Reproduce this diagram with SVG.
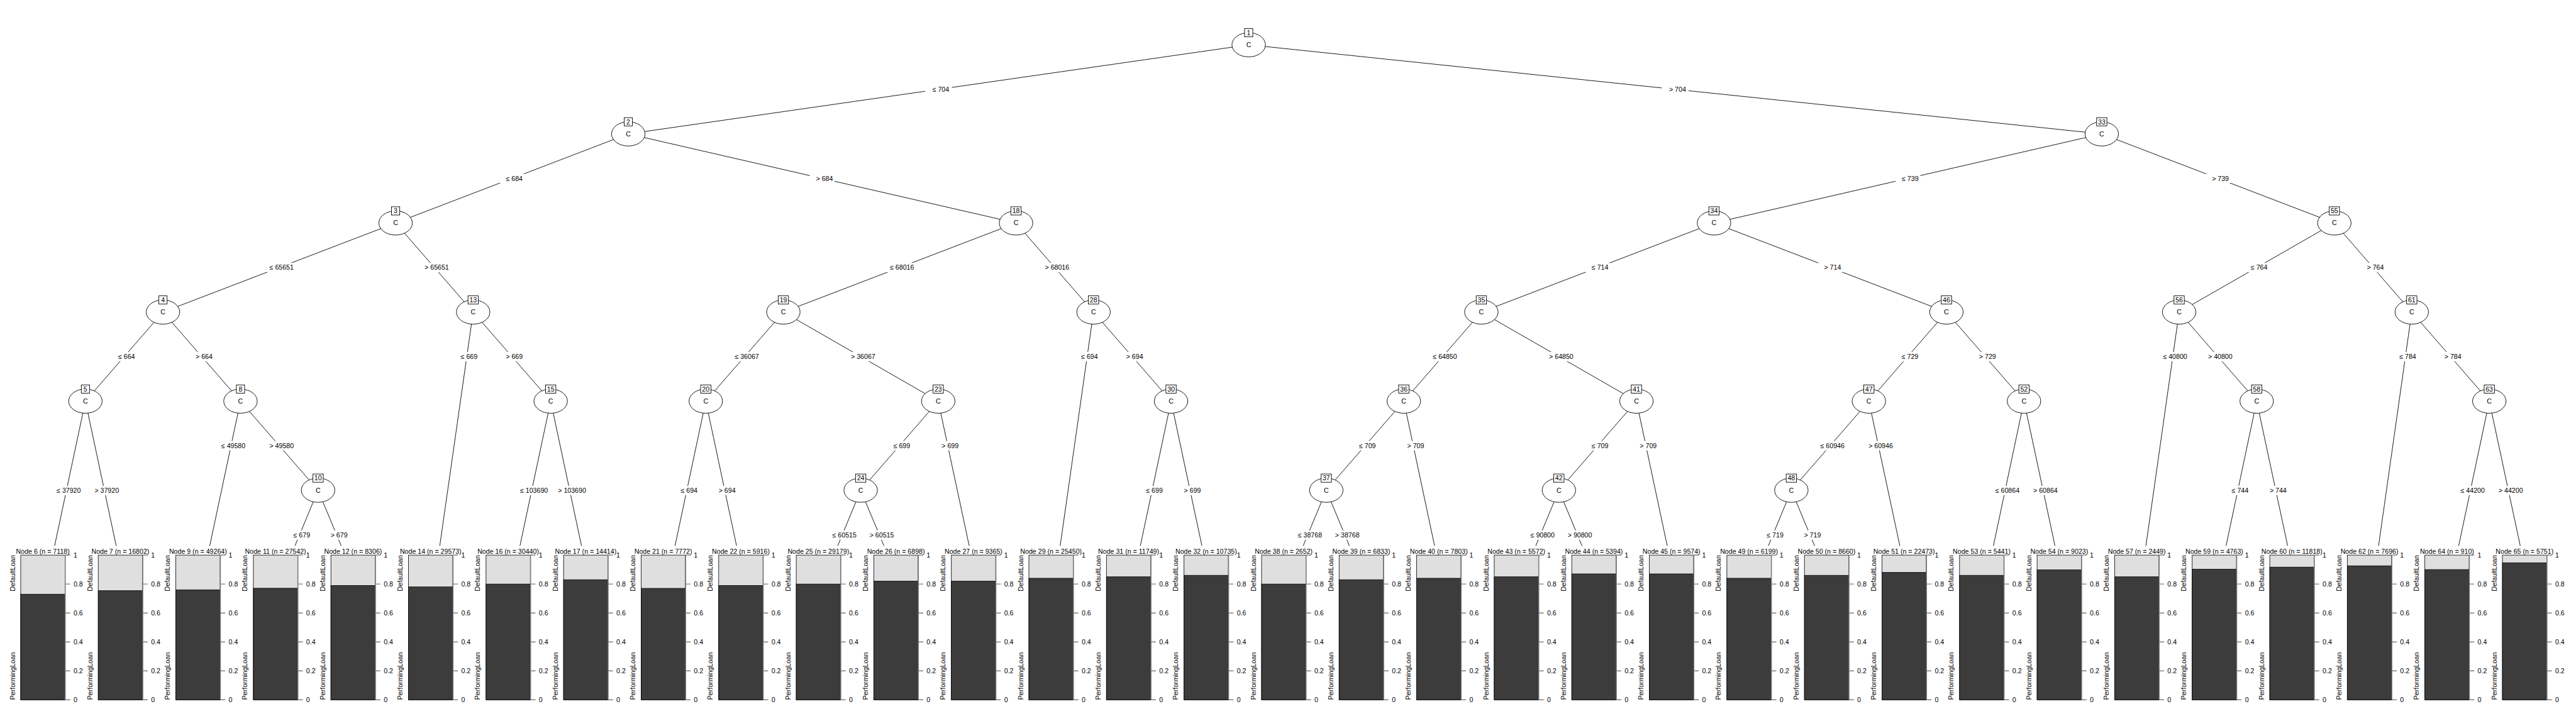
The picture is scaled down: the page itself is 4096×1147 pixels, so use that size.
<svg xmlns="http://www.w3.org/2000/svg" xmlns:xlink="http://www.w3.org/1999/xlink" width="4096" height="1147" viewBox="0 0 4096 1147">
<style>
text{font-family:"Liberation Sans",Arial,sans-serif;font-size:13px;fill:#000}
.m{text-anchor:middle}
.e{stroke:#000;stroke-width:1.1;fill:none}
.lb rect{fill:#fff;stroke:none}
.lb text{text-anchor:middle}
.n ellipse{fill:#fff;stroke:#000;stroke-width:1.1}
.n rect{fill:#fff;stroke:#000;stroke-width:1.1}
.n text{text-anchor:middle}
.lo{fill:#dfdfdf;stroke:#000;stroke-width:1}
.dk{fill:#3c3c3c;stroke:#000;stroke-width:1}
.ax{stroke:#808080;stroke-width:1.8;fill:none}
.en{text-anchor:end}
</style>
<defs>
<path id="axis" class="ax" d="M86.5,1078V1359M86.5,1078h9.5M86.5,1134.2h9.5M86.5,1190.4h9.5M86.5,1246.6h9.5M86.5,1302.8h9.5M86.5,1359h9.5"/>
</defs>
<rect x="0" y="0" width="4096" height="1147" fill="#fff"/>
<g transform="scale(0.8192)">
<g id="connectors">
<path class="e" d="M2423.7,87L1219.5,260M2423.7,87L4079.5,260M1219.5,260L767.9,433M1219.5,260L1972.1,433M767.9,433L316.3,606M767.9,433L918.4,606M316.3,606L165.8,779M316.3,606L466.8,779M466.8,779L617.4,952M918.4,606L1068.9,779M1972.1,433L1520.5,606M1972.1,433L2122.5,606M1520.5,606L1369.9,779M1520.5,606L1821.1,779M1821.1,779L1670.6,952M2122.5,606L2273,779M4079.5,260L3326.9,433M4079.5,260L4531,433M3326.9,433L2875.3,606M3326.9,433L3778,606M2875.3,606L2724.8,779M2875.3,606L3176.3,779M2724.8,779L2574.3,952M3176.3,779L3025.8,952M3778,606L3627.5,779M3778,606L3928.6,779M3627.5,779L3477,952M4531,433L4229.7,606M4531,433L4681.2,606M4229.7,606L4380.2,779M4681.2,606L4831.7,779"/>
<path class="e" d="M165.8,779L106,1060M165.8,779L225.5,1060M466.8,779L407.1,1060M617.4,952L572.5,1060M617.4,952L662.3,1060M918.4,606L853.6,1060M1068.9,779L1009.2,1060M1068.9,779L1128.7,1060M1369.9,779L1310.2,1060M1369.9,779L1429.7,1060M1821.1,779L1881.2,1060M1670.6,952L1626,1060M1670.6,952L1715.8,1060M2122.5,606L2057.8,1060M2273,779L2213.4,1060M2273,779L2332.9,1060M2724.8,779L2784.5,1060M2574.3,952L2529.4,1060M2574.3,952L2619.2,1060M3176.3,779L3236.1,1060M3025.8,952L2980.9,1060M3025.8,952L3070.7,1060M3627.5,779L3687.6,1060M3477,952L3432.3,1060M3477,952L3522.2,1060M3928.6,779L3869.2,1060M3928.6,779L3988.7,1060M4229.7,606L4165.2,1060M4380.2,779L4320.8,1060M4380.2,779L4440.3,1060M4681.2,606L4616.8,1060M4831.7,779L4772.3,1060M4831.7,779L4891.8,1060"/>
<g class="lb">
<rect x="1795.6" y="164.5" width="52" height="18"/><text x="1826.1" y="178.1">≤ 704</text>
<rect x="3225.6" y="164.5" width="52" height="18"/><text x="3256.1" y="178.1">&gt; 704</text>
<rect x="969.7" y="337.5" width="48" height="18"/><text x="998.2" y="351.1">≤ 684</text>
<rect x="1571.8" y="337.5" width="48" height="18"/><text x="1600.3" y="351.1">&gt; 684</text>
<rect x="3679.2" y="337.5" width="48" height="18"/><text x="3707.7" y="351.1">≤ 739</text>
<rect x="4281.3" y="337.5" width="48" height="18"/><text x="4309.8" y="351.1">&gt; 739</text>
<rect x="510.6" y="510.5" width="63" height="18"/><text x="546.6" y="524.1">≤ 65651</text>
<rect x="811.7" y="510.5" width="63" height="18"/><text x="847.7" y="524.1">&gt; 65651</text>
<rect x="1714.8" y="510.5" width="63" height="18"/><text x="1750.8" y="524.1">≤ 68016</text>
<rect x="2015.8" y="510.5" width="63" height="18"/><text x="2051.8" y="524.1">&gt; 68016</text>
<rect x="3077.1" y="510.5" width="48" height="18"/><text x="3105.6" y="524.1">≤ 714</text>
<rect x="3528.5" y="510.5" width="48" height="18"/><text x="3557" y="524.1">&gt; 714</text>
<rect x="4356.4" y="510.5" width="48" height="18"/><text x="4384.9" y="524.1">≤ 764</text>
<rect x="4582.1" y="510.5" width="48" height="18"/><text x="4610.6" y="524.1">&gt; 764</text>
<rect x="217.1" y="683.5" width="48" height="18"/><text x="245.6" y="697.1">≤ 664</text>
<rect x="367.6" y="683.5" width="48" height="18"/><text x="396.1" y="697.1">&gt; 664</text>
<rect x="882" y="683.5" width="48" height="18"/><text x="910.5" y="697.1">≤ 669</text>
<rect x="969.7" y="683.5" width="48" height="18"/><text x="998.2" y="697.1">&gt; 669</text>
<rect x="1413.7" y="683.5" width="63" height="18"/><text x="1449.7" y="697.1">≤ 36067</text>
<rect x="1639.3" y="683.5" width="63" height="18"/><text x="1675.3" y="697.1">&gt; 36067</text>
<rect x="2086.2" y="683.5" width="48" height="18"/><text x="2114.7" y="697.1">≤ 694</text>
<rect x="2173.8" y="683.5" width="48" height="18"/><text x="2202.3" y="697.1">&gt; 694</text>
<rect x="2768.6" y="683.5" width="63" height="18"/><text x="2804.6" y="697.1">≤ 64850</text>
<rect x="2994.3" y="683.5" width="63" height="18"/><text x="3030.3" y="697.1">&gt; 64850</text>
<rect x="3678.8" y="683.5" width="48" height="18"/><text x="3707.3" y="697.1">≤ 729</text>
<rect x="3829.3" y="683.5" width="48" height="18"/><text x="3857.8" y="697.1">&gt; 729</text>
<rect x="4185.9" y="683.5" width="63" height="18"/><text x="4221.9" y="697.1">≤ 40800</text>
<rect x="4273.5" y="683.5" width="63" height="18"/><text x="4309.5" y="697.1">&gt; 40800</text>
<rect x="4644.9" y="683.5" width="48" height="18"/><text x="4673.4" y="697.1">≤ 784</text>
<rect x="4732.5" y="683.5" width="48" height="18"/><text x="4761" y="697.1">&gt; 784</text>
<rect x="97.4" y="943.5" width="63" height="18"/><text x="133.4" y="957.1">≤ 37920</text>
<rect x="171.2" y="943.5" width="63" height="18"/><text x="207.2" y="957.1">&gt; 37920</text>
<rect x="416.9" y="856.5" width="63" height="18"/><text x="452.9" y="870.1">≤ 49580</text>
<rect x="510.6" y="856.5" width="63" height="18"/><text x="546.6" y="870.1">&gt; 49580</text>
<rect x="997" y="943.5" width="70" height="18"/><text x="1036.5" y="957.1">≤ 103690</text>
<rect x="1070.8" y="943.5" width="70" height="18"/><text x="1110.3" y="957.1">&gt; 103690</text>
<rect x="1309.1" y="943.5" width="48" height="18"/><text x="1337.6" y="957.1">≤ 694</text>
<rect x="1382.8" y="943.5" width="48" height="18"/><text x="1411.3" y="957.1">&gt; 694</text>
<rect x="1721.9" y="856.5" width="48" height="18"/><text x="1750.4" y="870.1">≤ 699</text>
<rect x="1815.6" y="856.5" width="48" height="18"/><text x="1844.1" y="870.1">&gt; 699</text>
<rect x="2212.2" y="943.5" width="48" height="18"/><text x="2240.7" y="957.1">≤ 699</text>
<rect x="2286" y="943.5" width="48" height="18"/><text x="2314.5" y="957.1">&gt; 699</text>
<rect x="2625.6" y="856.5" width="48" height="18"/><text x="2654.1" y="870.1">≤ 709</text>
<rect x="2719.2" y="856.5" width="48" height="18"/><text x="2747.7" y="870.1">&gt; 709</text>
<rect x="3077.1" y="856.5" width="48" height="18"/><text x="3105.6" y="870.1">≤ 709</text>
<rect x="3170.7" y="856.5" width="48" height="18"/><text x="3199.2" y="870.1">&gt; 709</text>
<rect x="3520.8" y="856.5" width="63" height="18"/><text x="3556.8" y="870.1">≤ 60946</text>
<rect x="3614.5" y="856.5" width="63" height="18"/><text x="3650.5" y="870.1">&gt; 60946</text>
<rect x="3860.4" y="943.5" width="63" height="18"/><text x="3896.4" y="957.1">≤ 60864</text>
<rect x="3934.2" y="943.5" width="63" height="18"/><text x="3970.2" y="957.1">&gt; 60864</text>
<rect x="4319.5" y="943.5" width="48" height="18"/><text x="4348" y="957.1">≤ 744</text>
<rect x="4393.3" y="943.5" width="48" height="18"/><text x="4421.8" y="957.1">&gt; 744</text>
<rect x="4763.5" y="943.5" width="63" height="18"/><text x="4799.5" y="957.1">≤ 44200</text>
<rect x="4837.3" y="943.5" width="63" height="18"/><text x="4873.3" y="957.1">&gt; 44200</text>
<rect x="557.2" y="1030" width="48" height="18"/><text x="585.7" y="1043.6">≤ 679</text>
<rect x="629.6" y="1030" width="48" height="18"/><text x="658.1" y="1043.6">&gt; 679</text>
<rect x="1603.1" y="1030" width="63" height="18"/><text x="1639.1" y="1043.6">≤ 60515</text>
<rect x="1675.5" y="1030" width="63" height="18"/><text x="1711.5" y="1043.6">&gt; 60515</text>
<rect x="2506.6" y="1030" width="63" height="18"/><text x="2542.6" y="1043.6">≤ 38768</text>
<rect x="2579" y="1030" width="63" height="18"/><text x="2615" y="1043.6">&gt; 38768</text>
<rect x="2958.1" y="1030" width="63" height="18"/><text x="2994.1" y="1043.6">≤ 90800</text>
<rect x="3030.5" y="1030" width="63" height="18"/><text x="3066.5" y="1043.6">&gt; 90800</text>
<rect x="3417" y="1030" width="48" height="18"/><text x="3445.5" y="1043.6">≤ 719</text>
<rect x="3489.4" y="1030" width="48" height="18"/><text x="3517.9" y="1043.6">&gt; 719</text>
</g>
</g>
<g id="n1" class="n"><ellipse cx="2423.7" cy="87" rx="32.5" ry="23.5"/><text x="2423.7" y="91.6">C</text><rect x="2415.7" y="55.5" width="16" height="16"/><text x="2423.7" y="68.1">1</text></g>
<g id="n2" class="n"><ellipse cx="1219.5" cy="260" rx="32.5" ry="23.5"/><text x="1219.5" y="264.6">C</text><rect x="1211.5" y="228.5" width="16" height="16"/><text x="1219.5" y="241.1">2</text></g>
<g id="n33" class="n"><ellipse cx="4079.5" cy="260" rx="32.5" ry="23.5"/><text x="4079.5" y="264.6">C</text><rect x="4069.5" y="228.5" width="20" height="16"/><text x="4079.5" y="241.1">33</text></g>
<g id="n3" class="n"><ellipse cx="767.9" cy="433" rx="32.5" ry="23.5"/><text x="767.9" y="437.6">C</text><rect x="759.9" y="401.5" width="16" height="16"/><text x="767.9" y="414.1">3</text></g>
<g id="n18" class="n"><ellipse cx="1972.1" cy="433" rx="32.5" ry="23.5"/><text x="1972.1" y="437.6">C</text><rect x="1962.1" y="401.5" width="20" height="16"/><text x="1972.1" y="414.1">18</text></g>
<g id="n34" class="n"><ellipse cx="3326.9" cy="433" rx="32.5" ry="23.5"/><text x="3326.9" y="437.6">C</text><rect x="3316.9" y="401.5" width="20" height="16"/><text x="3326.9" y="414.1">34</text></g>
<g id="n55" class="n"><ellipse cx="4531" cy="433" rx="32.5" ry="23.5"/><text x="4531" y="437.6">C</text><rect x="4521" y="401.5" width="20" height="16"/><text x="4531" y="414.1">55</text></g>
<g id="n4" class="n"><ellipse cx="316.3" cy="606" rx="32.5" ry="23.5"/><text x="316.3" y="610.6">C</text><rect x="308.3" y="574.5" width="16" height="16"/><text x="316.3" y="587.1">4</text></g>
<g id="n13" class="n"><ellipse cx="918.4" cy="606" rx="32.5" ry="23.5"/><text x="918.4" y="610.6">C</text><rect x="908.4" y="574.5" width="20" height="16"/><text x="918.4" y="587.1">13</text></g>
<g id="n19" class="n"><ellipse cx="1520.5" cy="606" rx="32.5" ry="23.5"/><text x="1520.5" y="610.6">C</text><rect x="1510.5" y="574.5" width="20" height="16"/><text x="1520.5" y="587.1">19</text></g>
<g id="n28" class="n"><ellipse cx="2122.5" cy="606" rx="32.5" ry="23.5"/><text x="2122.5" y="610.6">C</text><rect x="2112.5" y="574.5" width="20" height="16"/><text x="2122.5" y="587.1">28</text></g>
<g id="n35" class="n"><ellipse cx="2875.3" cy="606" rx="32.5" ry="23.5"/><text x="2875.3" y="610.6">C</text><rect x="2865.3" y="574.5" width="20" height="16"/><text x="2875.3" y="587.1">35</text></g>
<g id="n46" class="n"><ellipse cx="3778" cy="606" rx="32.5" ry="23.5"/><text x="3778" y="610.6">C</text><rect x="3768" y="574.5" width="20" height="16"/><text x="3778" y="587.1">46</text></g>
<g id="n56" class="n"><ellipse cx="4229.7" cy="606" rx="32.5" ry="23.5"/><text x="4229.7" y="610.6">C</text><rect x="4219.7" y="574.5" width="20" height="16"/><text x="4229.7" y="587.1">56</text></g>
<g id="n61" class="n"><ellipse cx="4681.2" cy="606" rx="32.5" ry="23.5"/><text x="4681.2" y="610.6">C</text><rect x="4671.2" y="574.5" width="20" height="16"/><text x="4681.2" y="587.1">61</text></g>
<g id="n5" class="n"><ellipse cx="165.8" cy="779" rx="32.5" ry="23.5"/><text x="165.8" y="783.6">C</text><rect x="157.8" y="747.5" width="16" height="16"/><text x="165.8" y="760.1">5</text></g>
<g id="n8" class="n"><ellipse cx="466.8" cy="779" rx="32.5" ry="23.5"/><text x="466.8" y="783.6">C</text><rect x="458.8" y="747.5" width="16" height="16"/><text x="466.8" y="760.1">8</text></g>
<g id="n15" class="n"><ellipse cx="1068.9" cy="779" rx="32.5" ry="23.5"/><text x="1068.9" y="783.6">C</text><rect x="1058.9" y="747.5" width="20" height="16"/><text x="1068.9" y="760.1">15</text></g>
<g id="n20" class="n"><ellipse cx="1369.9" cy="779" rx="32.5" ry="23.5"/><text x="1369.9" y="783.6">C</text><rect x="1359.9" y="747.5" width="20" height="16"/><text x="1369.9" y="760.1">20</text></g>
<g id="n23" class="n"><ellipse cx="1821.1" cy="779" rx="32.5" ry="23.5"/><text x="1821.1" y="783.6">C</text><rect x="1811.1" y="747.5" width="20" height="16"/><text x="1821.1" y="760.1">23</text></g>
<g id="n30" class="n"><ellipse cx="2273" cy="779" rx="32.5" ry="23.5"/><text x="2273" y="783.6">C</text><rect x="2263" y="747.5" width="20" height="16"/><text x="2273" y="760.1">30</text></g>
<g id="n36" class="n"><ellipse cx="2724.8" cy="779" rx="32.5" ry="23.5"/><text x="2724.8" y="783.6">C</text><rect x="2714.8" y="747.5" width="20" height="16"/><text x="2724.8" y="760.1">36</text></g>
<g id="n41" class="n"><ellipse cx="3176.3" cy="779" rx="32.5" ry="23.5"/><text x="3176.3" y="783.6">C</text><rect x="3166.3" y="747.5" width="20" height="16"/><text x="3176.3" y="760.1">41</text></g>
<g id="n47" class="n"><ellipse cx="3627.5" cy="779" rx="32.5" ry="23.5"/><text x="3627.5" y="783.6">C</text><rect x="3617.5" y="747.5" width="20" height="16"/><text x="3627.5" y="760.1">47</text></g>
<g id="n52" class="n"><ellipse cx="3928.6" cy="779" rx="32.5" ry="23.5"/><text x="3928.6" y="783.6">C</text><rect x="3918.6" y="747.5" width="20" height="16"/><text x="3928.6" y="760.1">52</text></g>
<g id="n58" class="n"><ellipse cx="4380.2" cy="779" rx="32.5" ry="23.5"/><text x="4380.2" y="783.6">C</text><rect x="4370.2" y="747.5" width="20" height="16"/><text x="4380.2" y="760.1">58</text></g>
<g id="n63" class="n"><ellipse cx="4831.7" cy="779" rx="32.5" ry="23.5"/><text x="4831.7" y="783.6">C</text><rect x="4821.7" y="747.5" width="20" height="16"/><text x="4831.7" y="760.1">63</text></g>
<g id="n10" class="n"><ellipse cx="617.4" cy="952" rx="32.5" ry="23.5"/><text x="617.4" y="956.6">C</text><rect x="607.4" y="920.5" width="20" height="16"/><text x="617.4" y="933.1">10</text></g>
<g id="n24" class="n"><ellipse cx="1670.6" cy="952" rx="32.5" ry="23.5"/><text x="1670.6" y="956.6">C</text><rect x="1660.6" y="920.5" width="20" height="16"/><text x="1670.6" y="933.1">24</text></g>
<g id="n37" class="n"><ellipse cx="2574.3" cy="952" rx="32.5" ry="23.5"/><text x="2574.3" y="956.6">C</text><rect x="2564.3" y="920.5" width="20" height="16"/><text x="2574.3" y="933.1">37</text></g>
<g id="n42" class="n"><ellipse cx="3025.8" cy="952" rx="32.5" ry="23.5"/><text x="3025.8" y="956.6">C</text><rect x="3015.8" y="920.5" width="20" height="16"/><text x="3025.8" y="933.1">42</text></g>
<g id="n48" class="n"><ellipse cx="3477" cy="952" rx="32.5" ry="23.5"/><text x="3477" y="956.6">C</text><rect x="3467" y="920.5" width="20" height="16"/><text x="3477" y="933.1">48</text></g>

<g id="n6" transform="translate(40.2,0)"><rect class="lo" x="0" y="1078" width="86" height="281"/><rect class="dk" x="0" y="1153.9" width="86" height="205.1"/><use xlink:href="#axis"/><text class="m" x="43" y="1075.5">Node 6 (n = 7118)</text><text x="102.5" y="1082.6">1</text><text x="102.5" y="1138.8">0.8</text><text x="102.5" y="1195">0.6</text><text x="102.5" y="1251.2">0.4</text><text x="102.5" y="1307.4">0.2</text><text x="102.5" y="1363.6">0</text><text class="en" transform="translate(-11.5,1078) rotate(-90)">DefaultLoan</text><text transform="translate(-11.5,1359) rotate(-90)">PerformingLoan</text></g>
<g id="n7" transform="translate(190.7,0)"><rect class="lo" x="0" y="1078" width="86" height="281"/><rect class="dk" x="0" y="1147.1" width="86" height="211.9"/><use xlink:href="#axis"/><text class="m" x="43" y="1075.5">Node 7 (n = 16802)</text><text x="102.5" y="1082.6">1</text><text x="102.5" y="1138.8">0.8</text><text x="102.5" y="1195">0.6</text><text x="102.5" y="1251.2">0.4</text><text x="102.5" y="1307.4">0.2</text><text x="102.5" y="1363.6">0</text><text class="en" transform="translate(-11.5,1078) rotate(-90)">DefaultLoan</text><text transform="translate(-11.5,1359) rotate(-90)">PerformingLoan</text></g>
<g id="n9" transform="translate(341.3,0)"><rect class="lo" x="0" y="1078" width="86" height="281"/><rect class="dk" x="0" y="1145.4" width="86" height="213.6"/><use xlink:href="#axis"/><text class="m" x="43" y="1075.5">Node 9 (n = 49264)</text><text x="102.5" y="1082.6">1</text><text x="102.5" y="1138.8">0.8</text><text x="102.5" y="1195">0.6</text><text x="102.5" y="1251.2">0.4</text><text x="102.5" y="1307.4">0.2</text><text x="102.5" y="1363.6">0</text><text class="en" transform="translate(-11.5,1078) rotate(-90)">DefaultLoan</text><text transform="translate(-11.5,1359) rotate(-90)">PerformingLoan</text></g>
<g id="n11" transform="translate(491.8,0)"><rect class="lo" x="0" y="1078" width="86" height="281"/><rect class="dk" x="0" y="1142.4" width="86" height="216.6"/><use xlink:href="#axis"/><text class="m" x="43" y="1075.5">Node 11 (n = 27542)</text><text x="102.5" y="1082.6">1</text><text x="102.5" y="1138.8">0.8</text><text x="102.5" y="1195">0.6</text><text x="102.5" y="1251.2">0.4</text><text x="102.5" y="1307.4">0.2</text><text x="102.5" y="1363.6">0</text><text class="en" transform="translate(-11.5,1078) rotate(-90)">DefaultLoan</text><text transform="translate(-11.5,1359) rotate(-90)">PerformingLoan</text></g>
<g id="n12" transform="translate(642.3,0)"><rect class="lo" x="0" y="1078" width="86" height="281"/><rect class="dk" x="0" y="1137" width="86" height="222"/><use xlink:href="#axis"/><text class="m" x="43" y="1075.5">Node 12 (n = 8306)</text><text x="102.5" y="1082.6">1</text><text x="102.5" y="1138.8">0.8</text><text x="102.5" y="1195">0.6</text><text x="102.5" y="1251.2">0.4</text><text x="102.5" y="1307.4">0.2</text><text x="102.5" y="1363.6">0</text><text class="en" transform="translate(-11.5,1078) rotate(-90)">DefaultLoan</text><text transform="translate(-11.5,1359) rotate(-90)">PerformingLoan</text></g>
<g id="n14" transform="translate(792.9,0)"><rect class="lo" x="0" y="1078" width="86" height="281"/><rect class="dk" x="0" y="1139.8" width="86" height="219.2"/><use xlink:href="#axis"/><text class="m" x="43" y="1075.5">Node 14 (n = 29573)</text><text x="102.5" y="1082.6">1</text><text x="102.5" y="1138.8">0.8</text><text x="102.5" y="1195">0.6</text><text x="102.5" y="1251.2">0.4</text><text x="102.5" y="1307.4">0.2</text><text x="102.5" y="1363.6">0</text><text class="en" transform="translate(-11.5,1078) rotate(-90)">DefaultLoan</text><text transform="translate(-11.5,1359) rotate(-90)">PerformingLoan</text></g>
<g id="n16" transform="translate(943.4,0)"><rect class="lo" x="0" y="1078" width="86" height="281"/><rect class="dk" x="0" y="1134.2" width="86" height="224.8"/><use xlink:href="#axis"/><text class="m" x="43" y="1075.5">Node 16 (n = 30440)</text><text x="102.5" y="1082.6">1</text><text x="102.5" y="1138.8">0.8</text><text x="102.5" y="1195">0.6</text><text x="102.5" y="1251.2">0.4</text><text x="102.5" y="1307.4">0.2</text><text x="102.5" y="1363.6">0</text><text class="en" transform="translate(-11.5,1078) rotate(-90)">DefaultLoan</text><text transform="translate(-11.5,1359) rotate(-90)">PerformingLoan</text></g>
<g id="n17" transform="translate(1093.9,0)"><rect class="lo" x="0" y="1078" width="86" height="281"/><rect class="dk" x="0" y="1125.8" width="86" height="233.2"/><use xlink:href="#axis"/><text class="m" x="43" y="1075.5">Node 17 (n = 14414)</text><text x="102.5" y="1082.6">1</text><text x="102.5" y="1138.8">0.8</text><text x="102.5" y="1195">0.6</text><text x="102.5" y="1251.2">0.4</text><text x="102.5" y="1307.4">0.2</text><text x="102.5" y="1363.6">0</text><text class="en" transform="translate(-11.5,1078) rotate(-90)">DefaultLoan</text><text transform="translate(-11.5,1359) rotate(-90)">PerformingLoan</text></g>
<g id="n21" transform="translate(1244.4,0)"><rect class="lo" x="0" y="1078" width="86" height="281"/><rect class="dk" x="0" y="1142.6" width="86" height="216.4"/><use xlink:href="#axis"/><text class="m" x="43" y="1075.5">Node 21 (n = 7772)</text><text x="102.5" y="1082.6">1</text><text x="102.5" y="1138.8">0.8</text><text x="102.5" y="1195">0.6</text><text x="102.5" y="1251.2">0.4</text><text x="102.5" y="1307.4">0.2</text><text x="102.5" y="1363.6">0</text><text class="en" transform="translate(-11.5,1078) rotate(-90)">DefaultLoan</text><text transform="translate(-11.5,1359) rotate(-90)">PerformingLoan</text></g>
<g id="n22" transform="translate(1395,0)"><rect class="lo" x="0" y="1078" width="86" height="281"/><rect class="dk" x="0" y="1137" width="86" height="222"/><use xlink:href="#axis"/><text class="m" x="43" y="1075.5">Node 22 (n = 5916)</text><text x="102.5" y="1082.6">1</text><text x="102.5" y="1138.8">0.8</text><text x="102.5" y="1195">0.6</text><text x="102.5" y="1251.2">0.4</text><text x="102.5" y="1307.4">0.2</text><text x="102.5" y="1363.6">0</text><text class="en" transform="translate(-11.5,1078) rotate(-90)">DefaultLoan</text><text transform="translate(-11.5,1359) rotate(-90)">PerformingLoan</text></g>
<g id="n25" transform="translate(1545.5,0)"><rect class="lo" x="0" y="1078" width="86" height="281"/><rect class="dk" x="0" y="1134.2" width="86" height="224.8"/><use xlink:href="#axis"/><text class="m" x="43" y="1075.5">Node 25 (n = 29179)</text><text x="102.5" y="1082.6">1</text><text x="102.5" y="1138.8">0.8</text><text x="102.5" y="1195">0.6</text><text x="102.5" y="1251.2">0.4</text><text x="102.5" y="1307.4">0.2</text><text x="102.5" y="1363.6">0</text><text class="en" transform="translate(-11.5,1078) rotate(-90)">DefaultLoan</text><text transform="translate(-11.5,1359) rotate(-90)">PerformingLoan</text></g>
<g id="n26" transform="translate(1696,0)"><rect class="lo" x="0" y="1078" width="86" height="281"/><rect class="dk" x="0" y="1128.6" width="86" height="230.4"/><use xlink:href="#axis"/><text class="m" x="43" y="1075.5">Node 26 (n = 6898)</text><text x="102.5" y="1082.6">1</text><text x="102.5" y="1138.8">0.8</text><text x="102.5" y="1195">0.6</text><text x="102.5" y="1251.2">0.4</text><text x="102.5" y="1307.4">0.2</text><text x="102.5" y="1363.6">0</text><text class="en" transform="translate(-11.5,1078) rotate(-90)">DefaultLoan</text><text transform="translate(-11.5,1359) rotate(-90)">PerformingLoan</text></g>
<g id="n27" transform="translate(1846.6,0)"><rect class="lo" x="0" y="1078" width="86" height="281"/><rect class="dk" x="0" y="1128.6" width="86" height="230.4"/><use xlink:href="#axis"/><text class="m" x="43" y="1075.5">Node 27 (n = 9365)</text><text x="102.5" y="1082.6">1</text><text x="102.5" y="1138.8">0.8</text><text x="102.5" y="1195">0.6</text><text x="102.5" y="1251.2">0.4</text><text x="102.5" y="1307.4">0.2</text><text x="102.5" y="1363.6">0</text><text class="en" transform="translate(-11.5,1078) rotate(-90)">DefaultLoan</text><text transform="translate(-11.5,1359) rotate(-90)">PerformingLoan</text></g>
<g id="n29" transform="translate(1997.1,0)"><rect class="lo" x="0" y="1078" width="86" height="281"/><rect class="dk" x="0" y="1123" width="86" height="236"/><use xlink:href="#axis"/><text class="m" x="43" y="1075.5">Node 29 (n = 25450)</text><text x="102.5" y="1082.6">1</text><text x="102.5" y="1138.8">0.8</text><text x="102.5" y="1195">0.6</text><text x="102.5" y="1251.2">0.4</text><text x="102.5" y="1307.4">0.2</text><text x="102.5" y="1363.6">0</text><text class="en" transform="translate(-11.5,1078) rotate(-90)">DefaultLoan</text><text transform="translate(-11.5,1359) rotate(-90)">PerformingLoan</text></g>
<g id="n31" transform="translate(2147.6,0)"><rect class="lo" x="0" y="1078" width="86" height="281"/><rect class="dk" x="0" y="1120.2" width="86" height="238.8"/><use xlink:href="#axis"/><text class="m" x="43" y="1075.5">Node 31 (n = 11749)</text><text x="102.5" y="1082.6">1</text><text x="102.5" y="1138.8">0.8</text><text x="102.5" y="1195">0.6</text><text x="102.5" y="1251.2">0.4</text><text x="102.5" y="1307.4">0.2</text><text x="102.5" y="1363.6">0</text><text class="en" transform="translate(-11.5,1078) rotate(-90)">DefaultLoan</text><text transform="translate(-11.5,1359) rotate(-90)">PerformingLoan</text></g>
<g id="n32" transform="translate(2298.2,0)"><rect class="lo" x="0" y="1078" width="86" height="281"/><rect class="dk" x="0" y="1117.3" width="86" height="241.7"/><use xlink:href="#axis"/><text class="m" x="43" y="1075.5">Node 32 (n = 10735)</text><text x="102.5" y="1082.6">1</text><text x="102.5" y="1138.8">0.8</text><text x="102.5" y="1195">0.6</text><text x="102.5" y="1251.2">0.4</text><text x="102.5" y="1307.4">0.2</text><text x="102.5" y="1363.6">0</text><text class="en" transform="translate(-11.5,1078) rotate(-90)">DefaultLoan</text><text transform="translate(-11.5,1359) rotate(-90)">PerformingLoan</text></g>
<g id="n38" transform="translate(2448.7,0)"><rect class="lo" x="0" y="1078" width="86" height="281"/><rect class="dk" x="0" y="1134.2" width="86" height="224.8"/><use xlink:href="#axis"/><text class="m" x="43" y="1075.5">Node 38 (n = 2652)</text><text x="102.5" y="1082.6">1</text><text x="102.5" y="1138.8">0.8</text><text x="102.5" y="1195">0.6</text><text x="102.5" y="1251.2">0.4</text><text x="102.5" y="1307.4">0.2</text><text x="102.5" y="1363.6">0</text><text class="en" transform="translate(-11.5,1078) rotate(-90)">DefaultLoan</text><text transform="translate(-11.5,1359) rotate(-90)">PerformingLoan</text></g>
<g id="n39" transform="translate(2599.2,0)"><rect class="lo" x="0" y="1078" width="86" height="281"/><rect class="dk" x="0" y="1125.8" width="86" height="233.2"/><use xlink:href="#axis"/><text class="m" x="43" y="1075.5">Node 39 (n = 6833)</text><text x="102.5" y="1082.6">1</text><text x="102.5" y="1138.8">0.8</text><text x="102.5" y="1195">0.6</text><text x="102.5" y="1251.2">0.4</text><text x="102.5" y="1307.4">0.2</text><text x="102.5" y="1363.6">0</text><text class="en" transform="translate(-11.5,1078) rotate(-90)">DefaultLoan</text><text transform="translate(-11.5,1359) rotate(-90)">PerformingLoan</text></g>
<g id="n40" transform="translate(2749.7,0)"><rect class="lo" x="0" y="1078" width="86" height="281"/><rect class="dk" x="0" y="1123" width="86" height="236"/><use xlink:href="#axis"/><text class="m" x="43" y="1075.5">Node 40 (n = 7803)</text><text x="102.5" y="1082.6">1</text><text x="102.5" y="1138.8">0.8</text><text x="102.5" y="1195">0.6</text><text x="102.5" y="1251.2">0.4</text><text x="102.5" y="1307.4">0.2</text><text x="102.5" y="1363.6">0</text><text class="en" transform="translate(-11.5,1078) rotate(-90)">DefaultLoan</text><text transform="translate(-11.5,1359) rotate(-90)">PerformingLoan</text></g>
<g id="n43" transform="translate(2900.3,0)"><rect class="lo" x="0" y="1078" width="86" height="281"/><rect class="dk" x="0" y="1120.2" width="86" height="238.8"/><use xlink:href="#axis"/><text class="m" x="43" y="1075.5">Node 43 (n = 5572)</text><text x="102.5" y="1082.6">1</text><text x="102.5" y="1138.8">0.8</text><text x="102.5" y="1195">0.6</text><text x="102.5" y="1251.2">0.4</text><text x="102.5" y="1307.4">0.2</text><text x="102.5" y="1363.6">0</text><text class="en" transform="translate(-11.5,1078) rotate(-90)">DefaultLoan</text><text transform="translate(-11.5,1359) rotate(-90)">PerformingLoan</text></g>
<g id="n44" transform="translate(3050.8,0)"><rect class="lo" x="0" y="1078" width="86" height="281"/><rect class="dk" x="0" y="1114.5" width="86" height="244.5"/><use xlink:href="#axis"/><text class="m" x="43" y="1075.5">Node 44 (n = 5394)</text><text x="102.5" y="1082.6">1</text><text x="102.5" y="1138.8">0.8</text><text x="102.5" y="1195">0.6</text><text x="102.5" y="1251.2">0.4</text><text x="102.5" y="1307.4">0.2</text><text x="102.5" y="1363.6">0</text><text class="en" transform="translate(-11.5,1078) rotate(-90)">DefaultLoan</text><text transform="translate(-11.5,1359) rotate(-90)">PerformingLoan</text></g>
<g id="n45" transform="translate(3201.3,0)"><rect class="lo" x="0" y="1078" width="86" height="281"/><rect class="dk" x="0" y="1114.5" width="86" height="244.5"/><use xlink:href="#axis"/><text class="m" x="43" y="1075.5">Node 45 (n = 9574)</text><text x="102.5" y="1082.6">1</text><text x="102.5" y="1138.8">0.8</text><text x="102.5" y="1195">0.6</text><text x="102.5" y="1251.2">0.4</text><text x="102.5" y="1307.4">0.2</text><text x="102.5" y="1363.6">0</text><text class="en" transform="translate(-11.5,1078) rotate(-90)">DefaultLoan</text><text transform="translate(-11.5,1359) rotate(-90)">PerformingLoan</text></g>
<g id="n49" transform="translate(3351.9,0)"><rect class="lo" x="0" y="1078" width="86" height="281"/><rect class="dk" x="0" y="1123" width="86" height="236"/><use xlink:href="#axis"/><text class="m" x="43" y="1075.5">Node 49 (n = 6199)</text><text x="102.5" y="1082.6">1</text><text x="102.5" y="1138.8">0.8</text><text x="102.5" y="1195">0.6</text><text x="102.5" y="1251.2">0.4</text><text x="102.5" y="1307.4">0.2</text><text x="102.5" y="1363.6">0</text><text class="en" transform="translate(-11.5,1078) rotate(-90)">DefaultLoan</text><text transform="translate(-11.5,1359) rotate(-90)">PerformingLoan</text></g>
<g id="n50" transform="translate(3502.4,0)"><rect class="lo" x="0" y="1078" width="86" height="281"/><rect class="dk" x="0" y="1117.3" width="86" height="241.7"/><use xlink:href="#axis"/><text class="m" x="43" y="1075.5">Node 50 (n = 8660)</text><text x="102.5" y="1082.6">1</text><text x="102.5" y="1138.8">0.8</text><text x="102.5" y="1195">0.6</text><text x="102.5" y="1251.2">0.4</text><text x="102.5" y="1307.4">0.2</text><text x="102.5" y="1363.6">0</text><text class="en" transform="translate(-11.5,1078) rotate(-90)">DefaultLoan</text><text transform="translate(-11.5,1359) rotate(-90)">PerformingLoan</text></g>
<g id="n51" transform="translate(3652.9,0)"><rect class="lo" x="0" y="1078" width="86" height="281"/><rect class="dk" x="0" y="1111.7" width="86" height="247.3"/><use xlink:href="#axis"/><text class="m" x="43" y="1075.5">Node 51 (n = 22473)</text><text x="102.5" y="1082.6">1</text><text x="102.5" y="1138.8">0.8</text><text x="102.5" y="1195">0.6</text><text x="102.5" y="1251.2">0.4</text><text x="102.5" y="1307.4">0.2</text><text x="102.5" y="1363.6">0</text><text class="en" transform="translate(-11.5,1078) rotate(-90)">DefaultLoan</text><text transform="translate(-11.5,1359) rotate(-90)">PerformingLoan</text></g>
<g id="n53" transform="translate(3803.5,0)"><rect class="lo" x="0" y="1078" width="86" height="281"/><rect class="dk" x="0" y="1117.3" width="86" height="241.7"/><use xlink:href="#axis"/><text class="m" x="43" y="1075.5">Node 53 (n = 5441)</text><text x="102.5" y="1082.6">1</text><text x="102.5" y="1138.8">0.8</text><text x="102.5" y="1195">0.6</text><text x="102.5" y="1251.2">0.4</text><text x="102.5" y="1307.4">0.2</text><text x="102.5" y="1363.6">0</text><text class="en" transform="translate(-11.5,1078) rotate(-90)">DefaultLoan</text><text transform="translate(-11.5,1359) rotate(-90)">PerformingLoan</text></g>
<g id="n54" transform="translate(3954,0)"><rect class="lo" x="0" y="1078" width="86" height="281"/><rect class="dk" x="0" y="1106.7" width="86" height="252.3"/><use xlink:href="#axis"/><text class="m" x="43" y="1075.5">Node 54 (n = 9023)</text><text x="102.5" y="1082.6">1</text><text x="102.5" y="1138.8">0.8</text><text x="102.5" y="1195">0.6</text><text x="102.5" y="1251.2">0.4</text><text x="102.5" y="1307.4">0.2</text><text x="102.5" y="1363.6">0</text><text class="en" transform="translate(-11.5,1078) rotate(-90)">DefaultLoan</text><text transform="translate(-11.5,1359) rotate(-90)">PerformingLoan</text></g>
<g id="n57" transform="translate(4104.5,0)"><rect class="lo" x="0" y="1078" width="86" height="281"/><rect class="dk" x="0" y="1120.2" width="86" height="238.8"/><use xlink:href="#axis"/><text class="m" x="43" y="1075.5">Node 57 (n = 2449)</text><text x="102.5" y="1082.6">1</text><text x="102.5" y="1138.8">0.8</text><text x="102.5" y="1195">0.6</text><text x="102.5" y="1251.2">0.4</text><text x="102.5" y="1307.4">0.2</text><text x="102.5" y="1363.6">0</text><text class="en" transform="translate(-11.5,1078) rotate(-90)">DefaultLoan</text><text transform="translate(-11.5,1359) rotate(-90)">PerformingLoan</text></g>
<g id="n59" transform="translate(4255,0)"><rect class="lo" x="0" y="1078" width="86" height="281"/><rect class="dk" x="0" y="1105.5" width="86" height="253.5"/><use xlink:href="#axis"/><text class="m" x="43" y="1075.5">Node 59 (n = 4763)</text><text x="102.5" y="1082.6">1</text><text x="102.5" y="1138.8">0.8</text><text x="102.5" y="1195">0.6</text><text x="102.5" y="1251.2">0.4</text><text x="102.5" y="1307.4">0.2</text><text x="102.5" y="1363.6">0</text><text class="en" transform="translate(-11.5,1078) rotate(-90)">DefaultLoan</text><text transform="translate(-11.5,1359) rotate(-90)">PerformingLoan</text></g>
<g id="n60" transform="translate(4405.6,0)"><rect class="lo" x="0" y="1078" width="86" height="281"/><rect class="dk" x="0" y="1101.3" width="86" height="257.7"/><use xlink:href="#axis"/><text class="m" x="43" y="1075.5">Node 60 (n = 11818)</text><text x="102.5" y="1082.6">1</text><text x="102.5" y="1138.8">0.8</text><text x="102.5" y="1195">0.6</text><text x="102.5" y="1251.2">0.4</text><text x="102.5" y="1307.4">0.2</text><text x="102.5" y="1363.6">0</text><text class="en" transform="translate(-11.5,1078) rotate(-90)">DefaultLoan</text><text transform="translate(-11.5,1359) rotate(-90)">PerformingLoan</text></g>
<g id="n62" transform="translate(4556.1,0)"><rect class="lo" x="0" y="1078" width="86" height="281"/><rect class="dk" x="0" y="1098.8" width="86" height="260.2"/><use xlink:href="#axis"/><text class="m" x="43" y="1075.5">Node 62 (n = 7696)</text><text x="102.5" y="1082.6">1</text><text x="102.5" y="1138.8">0.8</text><text x="102.5" y="1195">0.6</text><text x="102.5" y="1251.2">0.4</text><text x="102.5" y="1307.4">0.2</text><text x="102.5" y="1363.6">0</text><text class="en" transform="translate(-11.5,1078) rotate(-90)">DefaultLoan</text><text transform="translate(-11.5,1359) rotate(-90)">PerformingLoan</text></g>
<g id="n64" transform="translate(4706.6,0)"><rect class="lo" x="0" y="1078" width="86" height="281"/><rect class="dk" x="0" y="1106.1" width="86" height="252.9"/><use xlink:href="#axis"/><text class="m" x="43" y="1075.5">Node 64 (n = 910)</text><text x="102.5" y="1082.6">1</text><text x="102.5" y="1138.8">0.8</text><text x="102.5" y="1195">0.6</text><text x="102.5" y="1251.2">0.4</text><text x="102.5" y="1307.4">0.2</text><text x="102.5" y="1363.6">0</text><text class="en" transform="translate(-11.5,1078) rotate(-90)">DefaultLoan</text><text transform="translate(-11.5,1359) rotate(-90)">PerformingLoan</text></g>
<g id="n65" transform="translate(4857.2,0)"><rect class="lo" x="0" y="1078" width="86" height="281"/><rect class="dk" x="0" y="1092.9" width="86" height="266.1"/><use xlink:href="#axis"/><text class="m" x="43" y="1075.5">Node 65 (n = 5751)</text><text x="102.5" y="1082.6">1</text><text x="102.5" y="1138.8">0.8</text><text x="102.5" y="1195">0.6</text><text x="102.5" y="1251.2">0.4</text><text x="102.5" y="1307.4">0.2</text><text x="102.5" y="1363.6">0</text><text class="en" transform="translate(-11.5,1078) rotate(-90)">DefaultLoan</text><text transform="translate(-11.5,1359) rotate(-90)">PerformingLoan</text></g>
</g>
</svg>
